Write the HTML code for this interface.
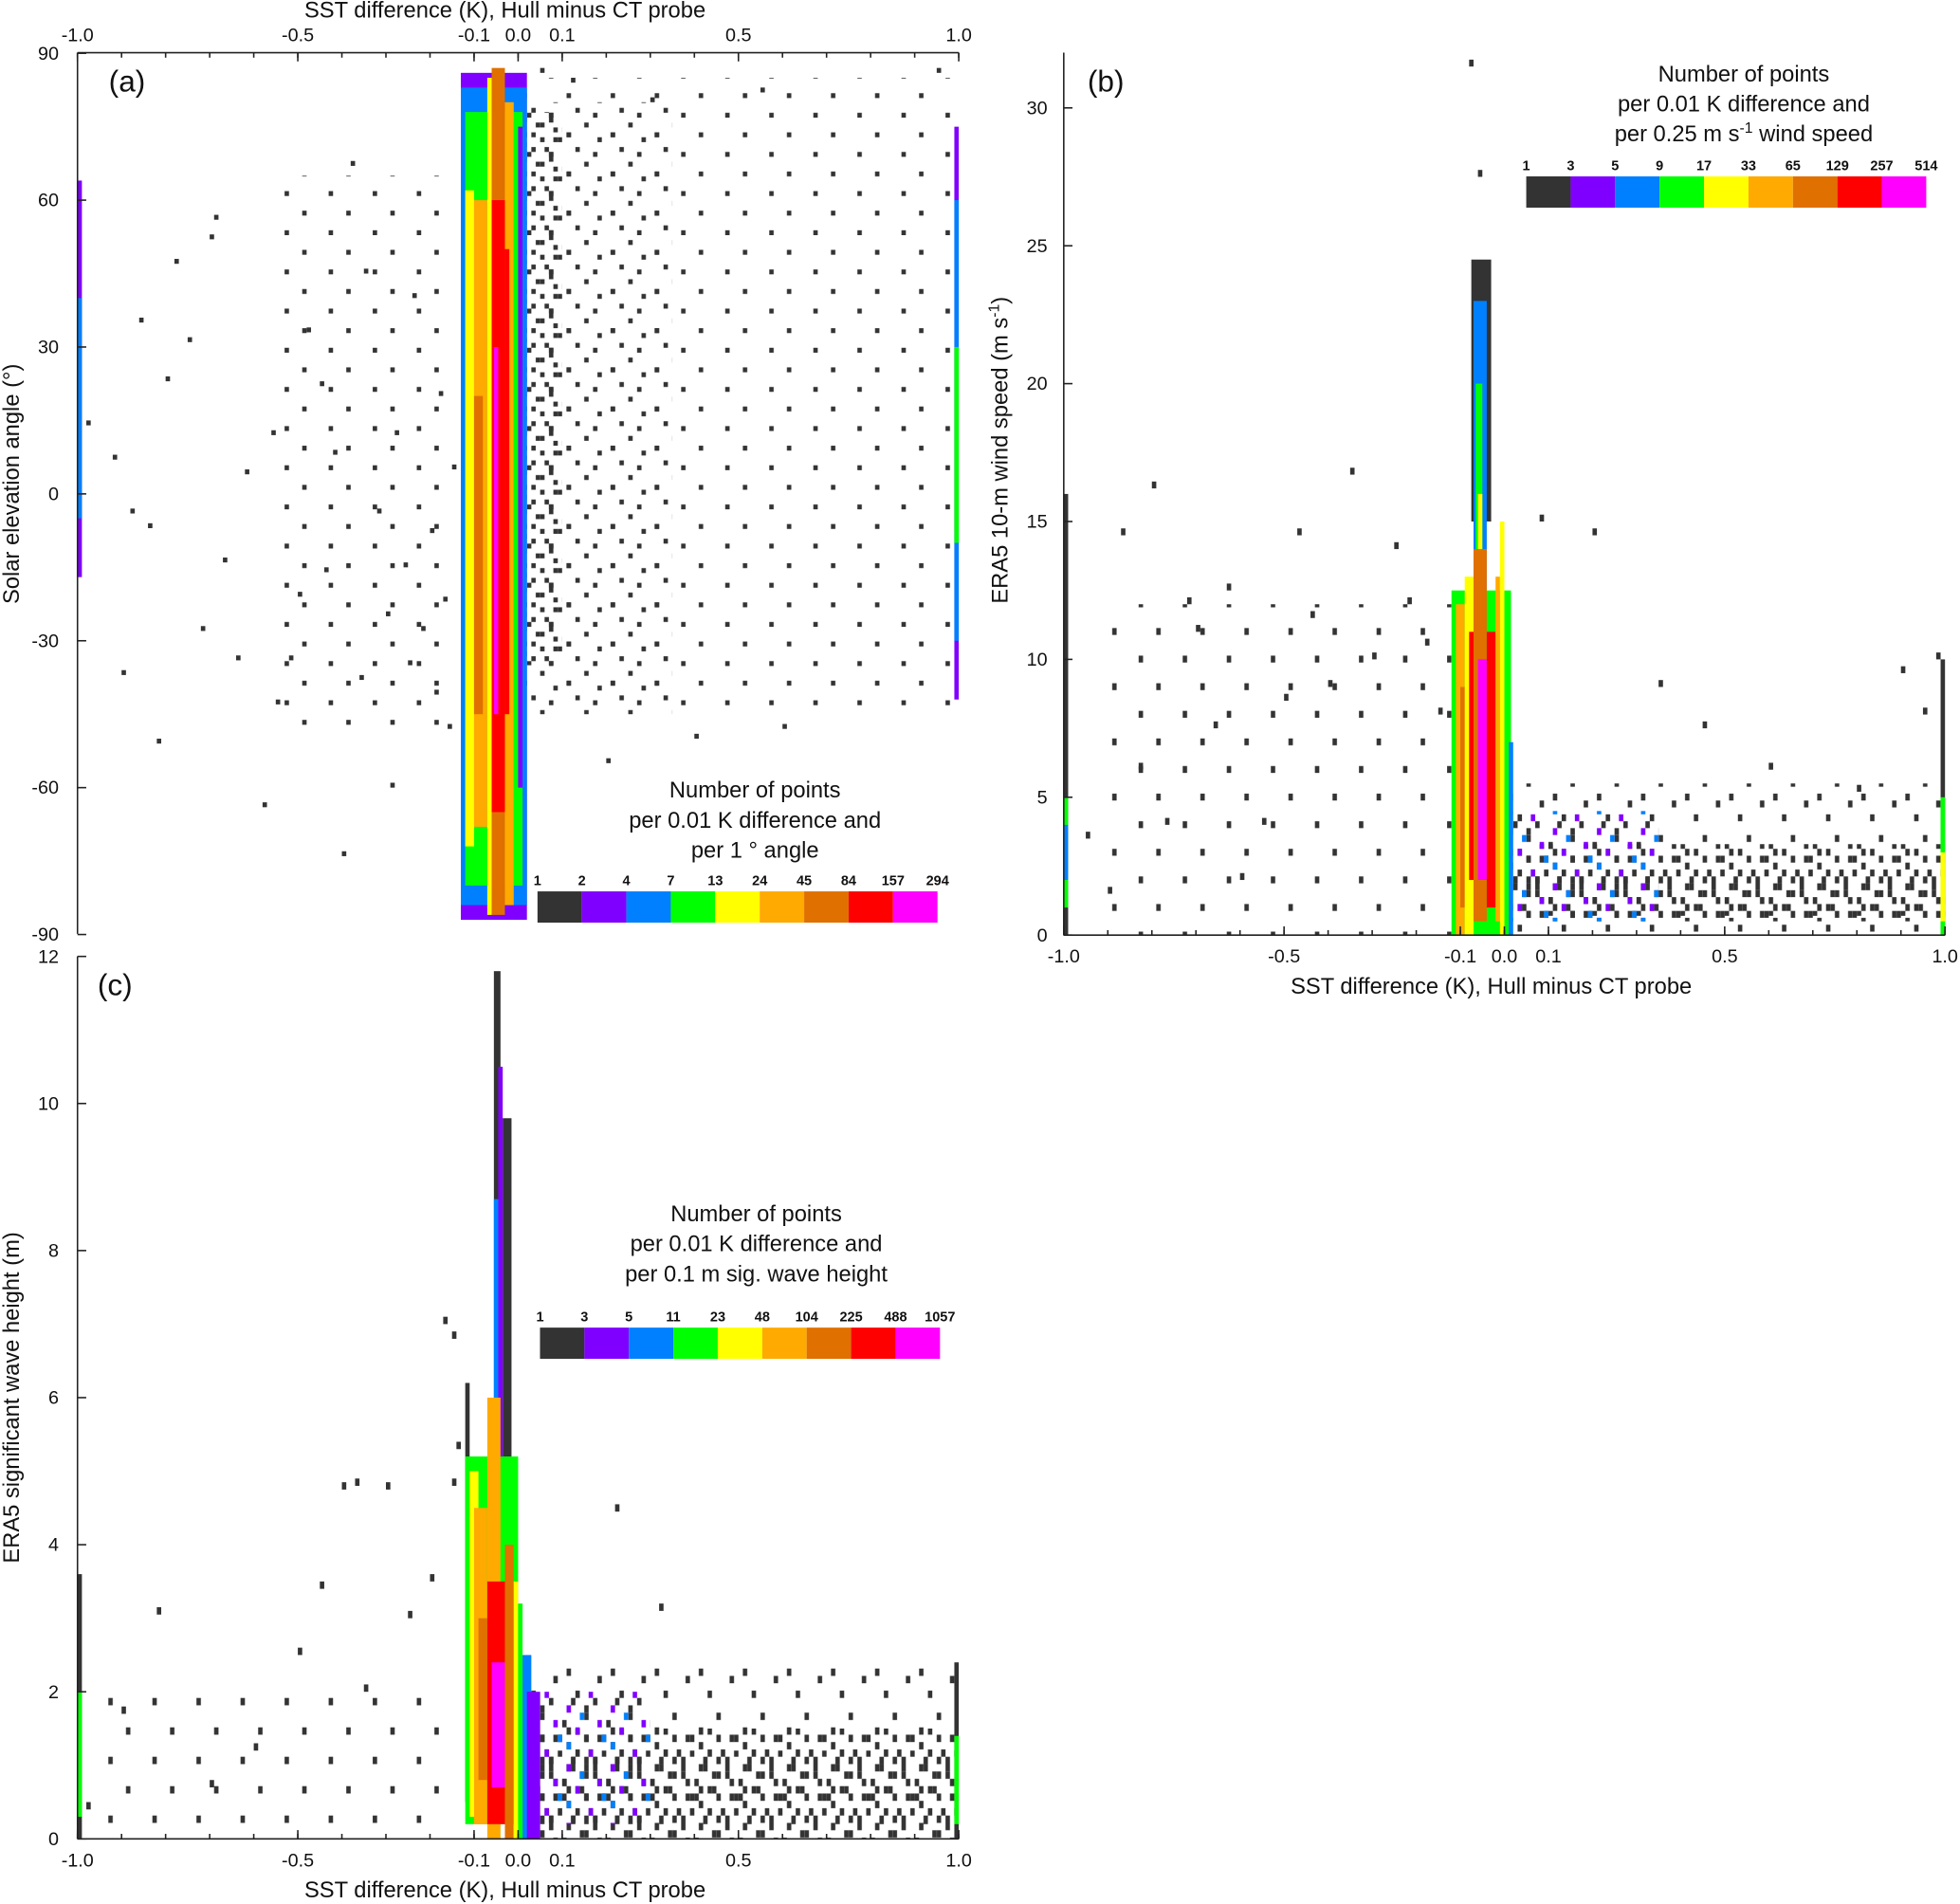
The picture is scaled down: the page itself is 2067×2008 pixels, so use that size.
<!DOCTYPE html>
<html><head><meta charset="utf-8"><style>
html,body{margin:0;padding:0;background:#fff}
svg{display:block}
text{font-family:"Liberation Sans",Arial,sans-serif;fill:#111}
</style></head><body>
<svg id="fig" width="2067" height="2008" viewBox="0 0 1568 1523" xmlns="http://www.w3.org/2000/svg">
<defs id="defs"></defs>
<g id="plots"></g>
</svg>
<script>
// ---- data ----
const levelColors = ["#333333","#8000ff","#0080ff","#00ff00","#ffff00","#ffaa00","#e07000","#ff0000","#ff00ff"];
const xTickVals = [-1.0,-0.5,-0.1,0.0,0.1,0.5,1.0];
const xTickLabels = ["-1.0","-0.5","-0.1","0.0","0.1","0.5","1.0"];
const aYTicks = [-90,-60,-30,0,30,60,90];
const bYTicks = [0,5,10,15,20,25,30];
const cYTicks = [0,2,4,6,8,10,12];
const aBarLabels = ["1","2","4","7","13","24","45","84","157","294"];
const bBarLabels = ["1","3","5","9","17","33","65","129","257","514"];
const cBarLabels = ["1","3","5","11","23","48","104","225","488","1057"];
// heatmap blocks: [x0, x1, y0, y1, level]
const aCells = [
 [-0.13,0.02,-87,86,1],[-0.13,0.02,-84,83,2],[-0.12,0.01,-80,78,3],
 [-0.12,-0.10,-72,62,4],[-0.10,-0.07,-68,60,5],[-0.10,-0.08,-45,20,6],
 [-0.07,-0.06,-86,85,4],[-0.06,-0.03,-86,87,6],[-0.06,-0.03,-65,60,7],
 [-0.055,-0.045,-45,30,8],[-0.03,-0.01,-84,80,5],[-0.03,-0.02,-45,50,7],
 [-0.01,0.0,-80,76,3],[0.0,0.01,-60,75,1],
 [-1.0,-0.99,-17,64,1],[-1.0,-0.99,-5,40,2],[0.99,1.0,-42,75,1],[0.99,1.0,-30,60,2],[0.99,1.0,-10,30,3]
];
const bCells = [
 [-0.075,-0.03,15,24.5,0],[-0.07,-0.04,12,23,2],[-0.065,-0.05,10,20,3],[-0.06,-0.05,9,16,4],
 [-0.12,0.015,0,12.5,3],[-0.11,-0.09,0,12,5],[-0.10,-0.08,1,9,6],
 [-0.09,-0.07,0,13,4],[-0.08,-0.06,2,11,7],[-0.07,-0.04,0.5,14,6],[-0.06,-0.04,2,10,8],
 [-0.04,-0.02,1,11,7],[-0.02,-0.01,0.5,13,5],[-0.01,0.0,0,15,4],[0.0,0.01,0,10,3],[0.01,0.02,0,7,2],
 [-1.0,-0.99,0,16,0],[-1.0,-0.99,1,5,3],[-1.0,-0.99,2,4,2],[0.99,1.0,0,10,0],[0.99,1.0,0,5,3],[0.99,1.0,0.5,3,4]
];
const cCells = [
 [-0.055,-0.04,6,11.8,0],[-0.055,-0.045,6,8.7,2],[-0.035,-0.015,4,9.8,0],[-0.045,-0.035,5,10.5,1],
 [-0.12,-0.11,0.5,6.2,0],[-0.12,0.0,0.2,5.2,3],[-0.11,-0.09,0.3,5,4],[-0.10,-0.07,0.2,4.5,5],
 [-0.09,-0.07,0.8,3,6],[-0.07,-0.04,0,6,5],[-0.07,-0.03,0.2,3.5,7],[-0.06,-0.03,0.7,2.4,8],
 [-0.03,-0.01,0,4,6],[-0.01,0.0,0,3.5,4],[0.0,0.01,0,3.2,3],[0.01,0.03,0,2.5,2],[0.02,0.05,0,2,1],
 [-1.0,-0.99,0,3.6,0],[-1.0,-0.99,0.3,2,3],[0.99,1.0,0,2.4,0],[0.99,1.0,0.2,1.4,3]
];
// speckle regions of sparse single-count cells: [x0,x1,y0,y1,density]
const aSpeckle = [[0.02,1.0,-45,85,"v"],[0.02,0.35,-45,80,"s"],[0.02,0.1,-35,78,"m"],[-0.55,-0.14,-50,65,"v"]];
const bSpeckle = [[0.02,1.0,0,5.5,"s"],[0.02,1.0,0.5,3.3,"m"],[0.02,1.0,0.7,2.6,"w"],[0.02,0.35,0.5,4.5,"c"],[-0.9,-0.12,0,12,"v"]];
const cSpeckle = [[0.03,1.0,0,2.4,"s"],[0.03,1.0,0,1.5,"m"],[0.03,1.0,0.2,1.2,"w"],[0.03,0.3,0.2,2,"c"],[-0.95,-0.14,0,2.2,"v"]];
// isolated points: [x,y]
const aPoints = [[-0.98,14],[-0.92,7],[-0.9,-37],[-0.88,-4],[-0.86,35],[-0.84,-7],[-0.82,-51],[-0.8,23],[-0.78,47],[-0.75,31],[-0.72,-28],[-0.7,52],[-0.69,56],[-0.67,-14],[-0.64,-34],[-0.62,4],[-0.58,-64],[-0.56,12],[-0.55,-43],[-0.52,-34],[-0.5,-21],[-0.48,33],[-0.45,22],[-0.44,-16],[-0.42,8],[-0.4,-74],[-0.38,67],[-0.36,-38],[-0.35,45],[-0.32,-4],[-0.3,-25],[-0.29,-60],[-0.28,12],[-0.26,-15],[-0.25,-35],[-0.24,40],[-0.22,-28],[-0.2,-8],[-0.19,-41],[-0.18,20],[-0.17,-22],[-0.16,-48],[-0.15,5],[0.05,86],[0.12,84],[0.3,80],[0.55,82],[0.95,86],[0.4,-50],[0.2,-55],[0.6,-48]];
const bPoints = [[-0.95,3.5],[-0.9,1.5],[-0.87,14.5],[-0.83,6],[-0.8,16.2],[-0.77,4],[-0.72,12],[-0.7,11],[-0.66,7.5],[-0.63,12.5],[-0.6,2],[-0.55,4],[-0.5,8.5],[-0.47,14.5],[-0.44,11.5],[-0.4,9],[-0.35,16.7],[-0.3,10],[-0.25,14],[-0.22,12],[-0.18,10.5],[-0.15,8],[-0.08,31.5],[-0.06,27.5],[0.08,15],[0.2,14.5],[0.35,9],[0.45,7.5],[0.6,6],[0.8,5.2],[0.9,9.5],[0.95,8],[0.98,10]];
const cPoints = [[-0.98,0.4],[-0.9,1.7],[-0.82,3.05],[-0.7,0.7],[-0.6,1.2],[-0.5,2.5],[-0.45,3.4],[-0.4,4.75],[-0.37,4.8],[-0.3,4.75],[-0.25,3.0],[-0.15,4.8],[-0.17,7.0],[-0.15,6.8],[-0.14,5.3],[0.22,4.45],[0.32,3.1],[-0.35,2.0],[-0.2,3.5]];

// ---- helpers ----
const NS="http://www.w3.org/2000/svg";
const plots=document.getElementById('plots');
const defs=document.getElementById('defs');
function mk(tag,attrs,parent){const e=document.createElementNS(NS,tag);for(const k in attrs)e.setAttribute(k,attrs[k]);(parent||plots).appendChild(e);return e;}
const CW=3.525;
const panels=[
 {id:"a",x0:62,y0:395,sy:3.9167,cells:aCells,speck:aSpeckle,pts:aPoints,ch:3.917},
 {id:"b",x0:851,y0:748,sy:22.06,cells:bCells,speck:bSpeckle,pts:bPoints,ch:5.52},
 {id:"c",x0:62,y0:1471,sy:58.83,cells:cCells,speck:cSpeckle,pts:cPoints,ch:5.88}
];
const masks={
 v:["0000000000","0000000000","0000000000","0100000000","0000000000","0000000000","0000000000","0000000100"],
 s:["0000000000","0000010000","0000000000","0100000000","0000000010","0000000000","0001000000","0000000000"],
 w:["0010000000","0000000100","0000000000","0000100000","1000000000","0000000000","0000000001","0000010000"],
 m:["0100000100","0000100000","1000000010","0001000000","0000010001","0100000000","0000001000","0010000100"],
 c:["0200010000","0000300000","1000000020","0002000000","0000010003","0300000000","0000002000","0010000100"]
};
function xs(p,v){return p.x0+(v+1)*352.5;}
function ys(p,v){return p.y0-v*p.sy;}
panels.forEach(p=>{
 for(const k in masks){
  const pat=mk('pattern',{id:'pat-'+p.id+k,patternUnits:'userSpaceOnUse',x:p.x0,y:0,width:CW*10,height:p.ch*8},defs);
  masks[k].forEach((row,r)=>{for(let c=0;c<10;c++){const ch=row[c];if(ch!=='0'){mk('rect',{x:c*CW,y:r*p.ch,width:CW,height:p.ch,fill:levelColors[ch==='1'?0:(+ch-1)]},pat);}}});
 }
 const g=mk('g',{});
 
 
 p.speck.forEach(s=>{
  const r=mk('rect',{x:xs(p,s[0]),y:ys(p,s[3]),width:xs(p,s[1])-xs(p,s[0]),height:ys(p,s[2])-ys(p,s[3]),fill:'url(#pat-'+p.id+s[4]+')'},g);
  
  
 });
 p.pts.forEach(q=>{
  const r=mk('rect',{x:xs(p,q[0]),y:ys(p,q[1])-p.ch,width:CW,height:p.ch,fill:levelColors[0]},g);
  
  
 });
 p.cells.forEach(c=>{
  const r=mk('rect',{x:xs(p,c[0]),y:ys(p,c[3]),width:xs(p,c[1])-xs(p,c[0]),height:ys(p,c[2])-ys(p,c[3]),fill:levelColors[c[4]]},g);
  
  
 });
});
function txt(x,y,s,size,anchor,name,extra){const t=mk('text',Object.assign({x:x,y:y,'font-size':size,'text-anchor':anchor||'middle'},extra||{}));t.textContent=s;return t;}
const ax=mk('g',{stroke:'#222','stroke-width':1.2,fill:'none'});


function line(x1,y1,x2,y2){mk('line',{x1,y1,x2,y2},ax);}
{const p=panels[0];
 line(62,42,62,747);line(62,42,767,42);
 for(let v=-1;v<=1.0001;v+=0.1){line(xs(p,v),42,xs(p,v),46);}
 xTickVals.forEach((v,i)=>{line(xs(p,v),42,xs(p,v),49);txt(xs(p,v),33,xTickLabels[i],15,'middle','x-tick-label-top');});
 aYTicks.forEach(v=>{line(62,ys(p,v),69,ys(p,v));txt(47,ys(p,v)+5,String(v),15,'end','y-tick-label-a');});
 txt(404,14,"SST difference (K), Hull minus CT probe",18,'middle','x-axis-title-a');
 txt(15,387,"Solar elevation angle (°)",18,'middle','y-axis-title-a',{transform:'rotate(-90 15 387)'});
 txt(87,73,"(a)",24,'start','panel-label-a');
}
function bottomAxis(p,top){
 line(p.x0,top,p.x0,ys(p,0));line(p.x0,ys(p,0),p.x0+705,ys(p,0));
 const yb=ys(p,0);
 for(let v=-1;v<=1.0001;v+=0.1){line(xs(p,v),yb,xs(p,v),yb-4);}
 xTickVals.forEach((v,i)=>{line(xs(p,v),yb,xs(p,v),yb-7);txt(xs(p,v),yb+22,xTickLabels[i],15,'middle','x-tick-label-'+p.id);});
 txt(p.x0+342,yb+47,"SST difference (K), Hull minus CT probe",18,'middle','x-axis-title-'+p.id);
}
{const p=panels[1];bottomAxis(p,42);
 bYTicks.forEach(v=>{line(851,ys(p,v),858,ys(p,v));txt(838,ys(p,v)+5,String(v),15,'end','y-tick-label-b');});
 const t=txt(806,360,"",18,'middle','y-axis-title-b',{transform:'rotate(-90 806 360)'});
 t.innerHTML='ERA5 10-m wind speed (m s<tspan dy="-7" font-size="12">-1</tspan><tspan dy="7">)</tspan>';
 txt(870,73,"(b)",24,'start','panel-label-b');}
{const p=panels[2];bottomAxis(p,765);
 cYTicks.forEach(v=>{line(62,ys(p,v),69,ys(p,v));txt(47,ys(p,v)+5,String(v),15,'end','y-tick-label-c');});
 txt(15,1118,"ERA5 significant wave height (m)",18,'middle','y-axis-title-c',{transform:'rotate(-90 15 1118)'});
 txt(78,796,"(c)",24,'start','panel-label-c');}
function colorbar(id,x,y,labels,cx,ty,lines){
 const g=mk('g',{});
 const w=320/9;
 for(let i=0;i<9;i++){const r=mk('rect',{x:x+i*w,y:y,width:w,height:25,fill:levelColors[i]},g);}
 labels.forEach((l,i)=>{txt(x+i*w,y-5,l,11,'middle','colorbar-label',{'font-weight':'bold'});});
 lines.forEach((s,i)=>{const t=txt(cx,ty+i*24,"",18,'middle','legend-title-'+id);t.innerHTML=s;});
}
colorbar('a',430,713,aBarLabels,604,638,["Number of points","per 0.01 K difference and","per 1 ° angle"]);
colorbar('b',1221,141,bBarLabels,1395,65,["Number of points","per 0.01 K difference and",'per 0.25 m s<tspan dy="-7" font-size="12">-1</tspan><tspan dy="7"> wind speed</tspan>']);
colorbar('c',432,1062,cBarLabels,605,977,["Number of points","per 0.01 K difference and","per 0.1 m sig. wave height"]);
</script>
</body></html>
